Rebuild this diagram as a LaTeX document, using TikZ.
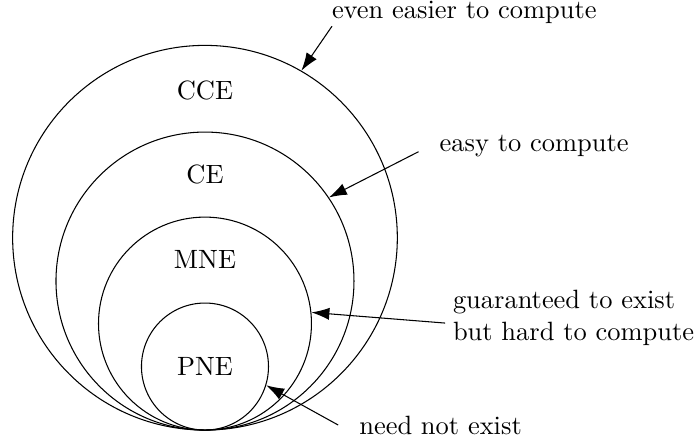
\documentclass[tikz,border=0pt]{standalone}
\usetikzlibrary{arrows.meta}

\begin{document}
\begin{tikzpicture}[
		ring/.style={circle, draw, inner sep=0pt},
		pfeil/.style={-{Latex[length=6.8pt,width=4.6pt]}},
		hinweis/.style={inner sep=0pt, outer sep=0pt}
	] % alle Kreise beruehren sich im Ursprung (unten)
		
		% Rahmen passend zum Bildausschnitt
		\useasboundingbox (-2.724,-0.159) rectangle (6.525,5.715);
		
		% Die vier Gleichgewichtsmengen (Durchmesser / Hoehe der Beschriftung)
		\foreach \name/\d/\txt/\ly in {cce/5.112/CCE/4.51, ce/3.96/CE/3.39, mne/2.83/MNE/2.27, pne/1.688/PNE/0.845} {
			\node[ring, minimum size=\d cm] (\name) at (0,\d/2) {};
			\node (\name-txt) at (0,\ly) {\txt};
		}
		
		% Beschriftungen rechts
		\node[hinweis, anchor=base west] (easier) at (1.688,5.47) {even easier to compute};
		\node[hinweis, anchor=base west] (easy) at (3.119,3.699) {easy to compute};
		\node[hinweis, anchor=north west, align=left] (hard) at (3.296,1.859) {guaranteed to exist\\but hard to compute};
		\node[hinweis, anchor=base west] (exist) at (2.051,-0.053) {need not exist};
		
		% Pfeile auf die Kreisraender
		\draw[pfeil] ([yshift=-1pt]easier.south west) -- (cce.60);
		\draw[pfeil] ([xshift=-8pt]easy.base west) -- (ce.34);
		\draw[pfeil] ([xshift=-3pt,yshift=-2pt]hard.west) -- (mne.6);
		\draw[pfeil] ([xshift=-8pt]exist.west) -- (pne.-17);
		
	\end{tikzpicture}
\end{document}
